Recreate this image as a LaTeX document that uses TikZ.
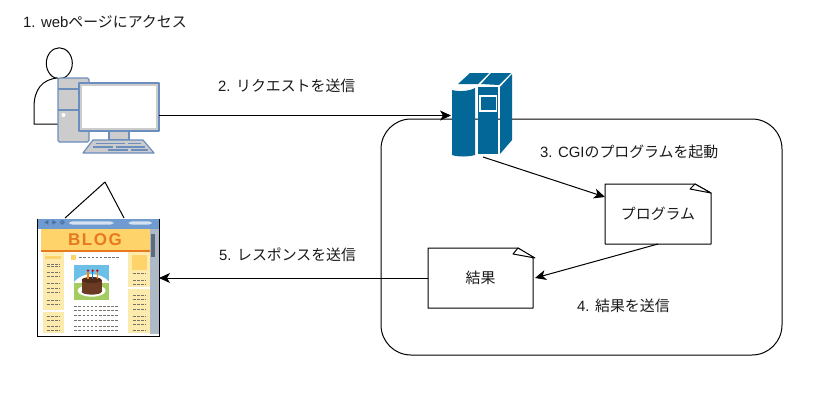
\documentclass[tikz,border=0pt]{standalone}
\usepackage{fontspec}
\setmainfont{Liberation Sans}
\newfontfamily\jpfont{Noto Sans CJK JP}
\usetikzlibrary{arrows.meta,calc}
\definecolor{txtc}{HTML}{1A1A1A}
\definecolor{pcfill}{HTML}{CCCCCC}
\definecolor{pcline}{HTML}{6C8EBF}
\definecolor{srv}{HTML}{036897}
\definecolor{blogblue}{HTML}{6F9BD1}
\definecolor{blogyel}{HTML}{FDD36A}
\definecolor{blogpale}{HTML}{FDEBAE}
\definecolor{blogor}{HTML}{E8791F}
\definecolor{dashc}{HTML}{77736A}
\definecolor{scrollc}{HTML}{AEB9C8}
\definecolor{thumbc}{HTML}{5F6B7C}
\definecolor{navc}{HTML}{4A6F9F}
\definecolor{skyc}{HTML}{6CC0E8}
\definecolor{grassc}{HTML}{A5CC62}
\definecolor{cakec}{HTML}{6B3A22}
\definecolor{caketop}{HTML}{4E2A18}
\tikzset{
  lbl/.style={text=txtc,font=\fontsize{14.9}{16}\selectfont,inner sep=0pt,anchor=west},
  conn/.style={draw=black,line width=1pt,-{Stealth[length=11pt,width=10pt,inset=3pt]}},
  box/.style={draw=none,inner sep=0pt,outer sep=0pt},
  pcpart/.style={draw=pcline,fill=pcfill,line width=1.2pt,line join=round},
  fine/.style={draw=black,line width=1pt,line join=round},
  srvpart/.style={fill=srv,draw=none},
  txtline/.style={draw=dashc,line width=0.9pt,dash pattern=on 2.6pt off 1.5pt}
}
\begin{document}
\begin{tikzpicture}[x=1pt,y=-1pt]
\useasboundingbox[fill=white] (0,0) rectangle (836,405);
% process container
\node[box,draw=black,line width=1pt,rounded corners=30pt,minimum width=401pt,minimum height=236pt] (proc) at (581.5,237) {};
% person
\draw[fine,fill=white] (59.3,63.3) ellipse [x radius=13,y radius=15.5];
\draw[fine,fill=white] (58,124) -- (34,124) -- (34,107) .. controls (34,90) and (42,79) .. (58,78);
% desktop
\draw[pcpart,rounded corners=1.5pt] (58,78) rectangle (89,142);
\draw[pcline,line width=1.2pt] (58,89) -- (89,89) (58,110) -- (89,110);
\fill[white] (63.5,115) circle (2);
\node[box,minimum width=80pt,minimum height=48pt] (pc) at (119,107) {};
\draw[pcpart] (109,131) rectangle (129,140);
\draw[pcpart] (79,83) rectangle (159,131);
\fill[white] (82,86) rectangle (156,128);
\draw[pcpart] (93,140) -- (143,140) -- (154,153) -- (83,153) -- cycle;
\draw[pcline,line width=1.1pt] (96,143.5) -- (125,143.5) (128,143.5) -- (141,143.5)
  (93,147) -- (113,147) (116,147) -- (145,147)
  (108,150) -- (128,150) (131,150) -- (148,150);
% server
\node[box,minimum width=60pt,minimum height=85pt] (server) at (482,115.5) {};
\path[srvpart] (452,90) .. controls (459,92) and (470,91) .. (475,88) -- (475,155) .. controls (468,157) and (458,157) .. (452,155) -- cycle;
\path[srvpart] (478,87) rectangle (498,154);
\path[srvpart] (500,87) -- (512,74) -- (512,140) -- (500,154) -- cycle;
\path[srvpart] (458,84) -- (470,73) -- (489,73) -- (478,84) -- cycle;
\path[srvpart] (481,84) -- (491,73) -- (511,73) -- (499,85) -- cycle;
\draw[white,line width=1.5pt] (480,96) rectangle (496.5,111);
% notes
\node[box,minimum width=106pt,minimum height=60pt] (prog) at (658,214) {};
\node[box,minimum width=105pt,minimum height=60pt] (res) at (480.5,278) {};
\draw[fine,fill=white] (605,184) -- (695,184) -- (711,193) -- (711,244) -- (605,244) -- cycle;
\draw[fine,fill=white] (695,184) -- (690,189) -- (711,193) -- cycle;
\draw[fine,fill=white] (428,248) -- (518,248) -- (533,258) -- (533,308) -- (428,308) -- cycle;
\draw[fine,fill=white] (518,248) -- (513,254) -- (535,258) -- cycle;
\node[lbl,anchor=center] (progt) at (prog.center) {\jpfont プログラム};
\node[lbl,anchor=center] (rest) at (res.center) {\jpfont 結果};
% browser picture
\node[box,minimum width=121pt,minimum height=118pt] (blog) at (98.5,278) {};
\draw[fine] (65,218) -- (105,182) -- (124,218);
\begin{scope}[shift={(20,170)},x=0.3333pt,y=-0.3333pt]
  \fill[white] (53,147) rectangle (418,500);
  \fill[blogyel] (62,178) rectangle (390,245);
  \fill[blogor] (62,241) rectangle (390,245);
  \fill[blogpale] (68,246) rectangle (133,490);
  \fill[blogpale] (325,246) rectangle (390,490);
  \fill[white] (68,420) rectangle (133,425);
  \fill[white] (325,352) rectangle (390,358);
  \fill[blogyel] (335,256) rectangle (381,300);
  \fill[blogyel] (154,256) rectangle (168,270);
  \fill[blogyel] (76,259) rectangle (122,268);
  \fill[scrollc] (390,178) rectangle (416,492);
  \fill[thumbc] (393,192) rectangle (405,262);
  \fill[blogblue] (55,147) rectangle (416,176);
  \fill[white!70!blogblue,rounded corners=3pt] (148,154) rectangle (280,164);
  \fill[white!70!blogblue,rounded corners=3pt] (327,154) rectangle (395,164);
  \fill[navc] (85,150) -- (85,164) -- (73,157) -- cycle;
  \fill[navc] (97,150) -- (97,164) -- (109,157) -- cycle;
  \draw[navc,line width=1pt] (127,157) circle (1.8pt);
  % cake image
  \fill[skyc] (163,285) rectangle (267,345);
  \fill[white] (163,335) .. controls (190,305) and (240,305) .. (267,335) -- (267,345) -- (163,345) -- cycle;
  \fill[grassc] (163,340) rectangle (267,390);
  \fill[white] (215,362) ellipse [x radius=42,y radius=18];
  \fill[cakec] (185,330) rectangle (245,365);
  \fill[cakec] (215,365) ellipse [x radius=30,y radius=9];
  \fill[caketop] (215,330) ellipse [x radius=30,y radius=9];
  \foreach \cx/\cc in {204/orange,218/cyan!60!blue,232/orange} {
    \fill[\cc] (\cx-2,306) rectangle (\cx+2,328);
    \fill[red!85!black] (\cx,302) circle (1.3pt);
  }
  % text blocks
  \foreach \ly in {282,290,308,320,340,355,368,390,402,438,450,468,480} {\draw[txtline] (81,\ly) -- (120,\ly);}
  \foreach \ly in {310,330,342,376,388,404,418,438,452,462,480} {\draw[txtline] (339,\ly) -- (379,\ly);}
  \foreach \ly in {408,422,436,450,468,482} {\draw[txtline] (163,\ly) -- (295,\ly);}
  \draw[txtline] (178,262) -- (300,262);
  \node[inner sep=0pt,text=blogor,font=\bfseries\fontsize{17}{17}\selectfont] (blogt) at (225,208) {B\hspace{1.5pt}L\hspace{1.5pt}O\hspace{1.5pt}G};
  % frame
  \draw[black,line width=0.8pt] (53,500) -- (418,500) -- (418,147);
  \draw[black,line width=0.8pt] (53,147) -- (53,500);
\end{scope}
% connector ends
\coordinate (progin) at ($(prog.north west)+(0,13)$);
\coordinate (srvout) at ($(server.south)+(1,-1)$);
\coordinate (resin) at ($(res.east)+(2,0)$);
\coordinate (srvin) at ($(server.west)+(-1,0)$);
\coordinate (pcout) at ($(pc.east)+(0,8.5)$);
\coordinate (blogin) at (blog.east);
\draw[conn] (pcout) -- (srvin);
\draw[conn] (srvout) -- (progin);
\draw[conn] (prog.south) -- (resin);
\draw[conn] (res.west) -- (blogin);
% labels
\node[lbl] (l1) at (23,22) {1. web\jpfont ページにアクセス};
\node[lbl] (l2) at (218,86) {2. \jpfont リクエストを送信};
\node[lbl] (l3) at (540,152) {3. CGI\jpfont のプログラムを起動};
\node[lbl] (l4) at (577,306) {4. \jpfont 結果を送信};
\node[lbl] (l5) at (219,255) {5. \jpfont レスポンスを送信};
\end{tikzpicture}
\end{document}
